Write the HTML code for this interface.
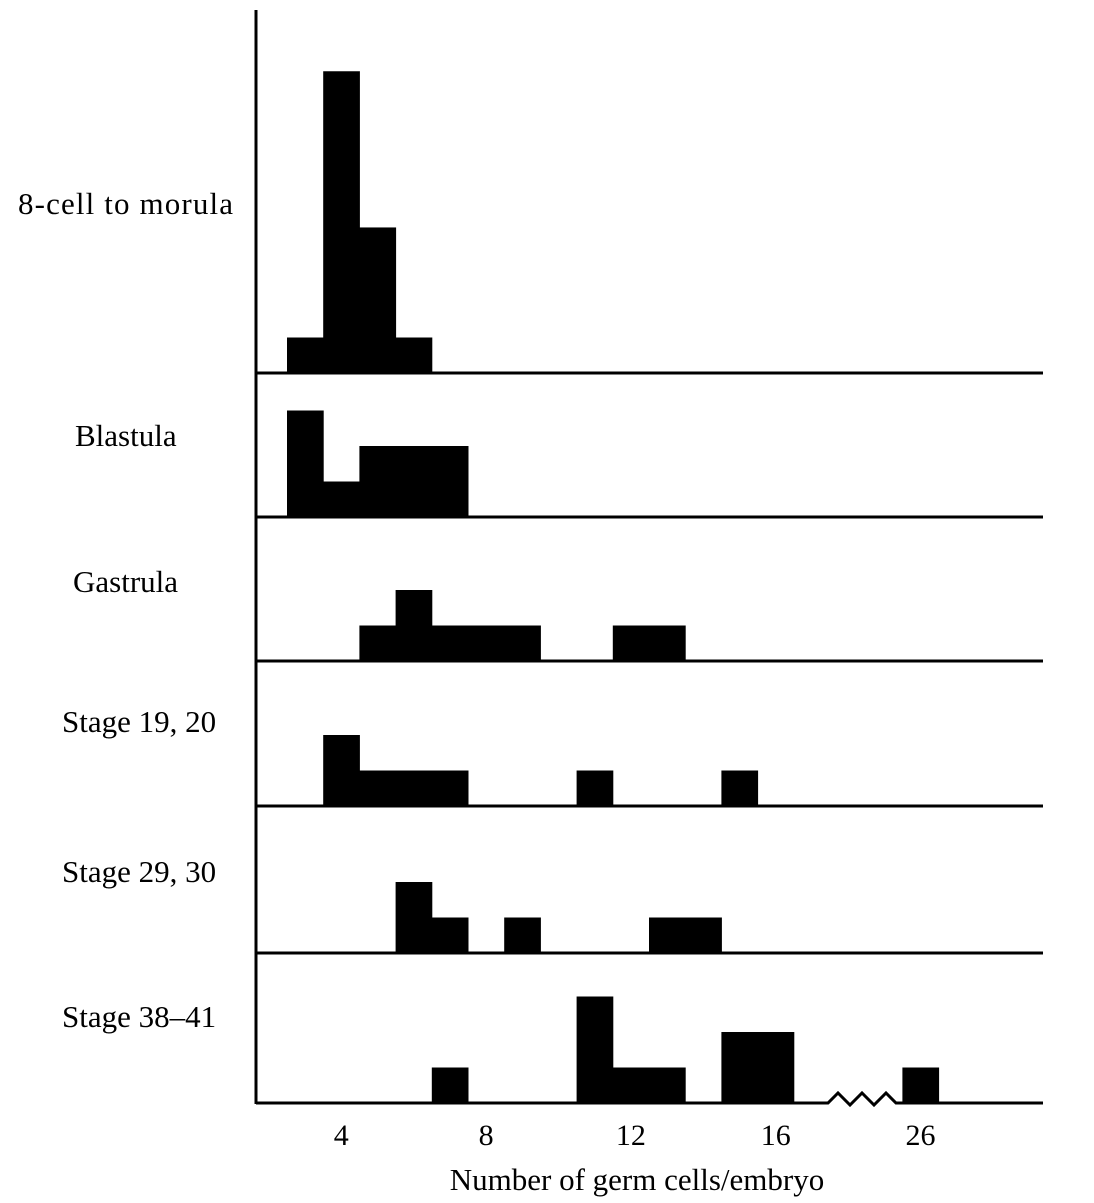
<!DOCTYPE html>
<html><head><meta charset="utf-8"><style>
html,body{margin:0;padding:0;background:#fff;}
svg{display:block;font-family:"Liberation Serif",serif;}
</style></head><body>
<svg id="chart" width="1094" height="1203" viewBox="0 0 1094 1203">
</svg>
<script>
const panelNames = ["8-cell to morula","Blastula","Gastrula","Stage 19, 20","Stage 29, 30","Stage 38\u201341"];
const panel0Values = [3,4,5,6];
const panel0Counts = [1,8.5,4.1,1];
const panel1Values = [3,4,5,6,7];
const panel1Counts = [3,1,2,2,2];
const panel2Values = [5,6,7,8,9,12,13];
const panel2Counts = [1,2,1,1,1,1,1];
const panel3Values = [4,5,6,7,11,15];
const panel3Counts = [2,1,1,1,1,1];
const panel4Values = [6,7,9,13,14];
const panel4Counts = [2,1,1,1,1];
const panel5Values = [7,11,12,13,15,16,26];
const panel5Counts = [1,3,1,1,2,2,1];
const tickValues = [4,8,12,16,26];
const tickLabels = ["4","8","12","16","26"];

const NS="http://www.w3.org/2000/svg";
const svg=document.getElementById('chart');
const unit=36.2, countPx=35.5;
function xScale(v){ const vv = v>=20 ? v-6 : v; return 287+(vv-2.5)*unit; }
const baselines=[373,517,661,806,953,1103];
const labelPos=[[18,214],[75,446],[73,592],[62,732],[62,882],[62,1027]];
const allValues=[panel0Values,panel1Values,panel2Values,panel3Values,panel4Values,panel5Values];
const allCounts=[panel0Counts,panel1Counts,panel2Counts,panel3Counts,panel4Counts,panel5Counts];
function mk(t,a){const e=document.createElementNS(NS,t);for(const k in a)e.setAttribute(k,a[k]);svg.appendChild(e);return e;}

allValues.forEach((vals,p)=>{
  const b=baselines[p];
  vals.forEach((v,i)=>{
    const h=allCounts[p][i]*countPx;
    const r=mk('rect',{x:xScale(v)-unit/2,y:b-h,width:unit+0.5,height:h,fill:'#000'});
    
    
  });
  let line;
  if(p===5){
    line=mk('path',{d:`M256 ${b} H828 l10 -10 l12 12 l12 -12 l12 12 l12 -12 l10 10 H1043`,stroke:'#000','stroke-width':3,fill:'none'});
  } else {
    line=mk('line',{x1:256,y1:b,x2:1043,y2:b,stroke:'#000','stroke-width':3});
  }
  
  
  const t=mk('text',{x:labelPos[p][0],y:labelPos[p][1],'font-size':31,fill:'#000',textLength:p===0?215:null});
  if(p!==0)t.removeAttribute('textLength');
  t.textContent=panelNames[p];
  
  
});
const ax=mk('line',{x1:256,y1:10,x2:256,y2:1104,stroke:'#000','stroke-width':3});


tickValues.forEach((v,i)=>{
  const t=mk('text',{x:xScale(v),y:1145,'font-size':30,'text-anchor':'middle',fill:'#000'});
  t.textContent=tickLabels[i];
  
  
});
const xt=mk('text',{x:637,y:1190,'font-size':31,'text-anchor':'middle',fill:'#000'});
xt.textContent="Number of germ cells/embryo";


</script>
</body></html>
